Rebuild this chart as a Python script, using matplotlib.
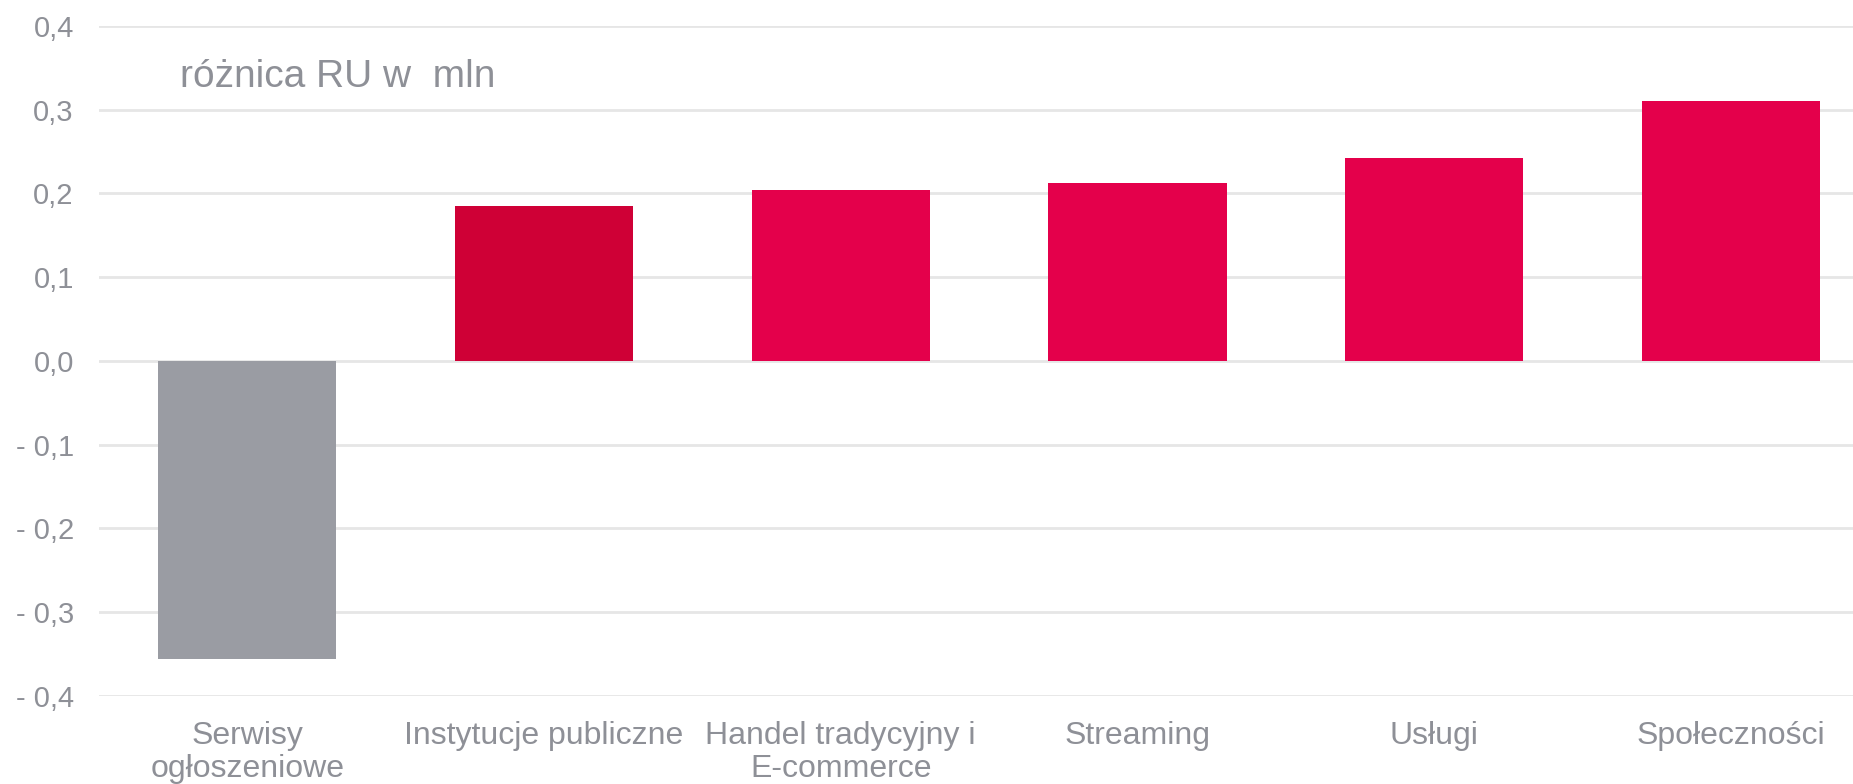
import matplotlib.pyplot as plt

plt.rcParams['font.family'] = ['Liberation Sans', 'DejaVu Sans']

# Differences in RU (millions) per category
categories = ["Serwisy\nogłoszeniowe", "Instytucje publiczne", "Handel tradycyjny i\nE-commerce",
              "Streaming", "Usługi", "Społeczności"]
values = [-0.356, 0.185, 0.204, 0.212, 0.242, 0.311]
colors = ["#9A9CA3", "#CF0036", "#E4004B", "#E4004B", "#E4004B", "#E4004B"]

yticks = [-0.4, -0.3, -0.2, -0.1, 0.0, 0.1, 0.2, 0.3, 0.4]
ytick_labels = ["- 0,4", "- 0,3", "- 0,2", "- 0,1", "0,0", "0,1", "0,2", "0,3", "0,4"]

TEXT_GRAY = "#8E9097"

fig = plt.figure(figsize=(18.53, 7.84), dpi=100)
ax = fig.add_axes([0.0533, 0.1126, 0.961, 0.8542])

x = list(range(len(categories)))
ax.bar(x, values, width=0.6, color=colors, linewidth=0, zorder=3)

ax.set_xlim(-0.5, len(categories) - 0.5)
ax.set_ylim(-0.4, 0.4)
ax.set_yticks(yticks)
ax.set_yticklabels(ytick_labels)
ax.set_xticks(x)
ax.set_xticklabels(categories, linespacing=1.15)

ax.grid(axis="y", color="#E6E6E6", linewidth=2, zorder=0)
ax.set_axisbelow(True)
for s in ax.spines.values():
    s.set_visible(False)
ax.tick_params(axis="y", length=0, labelsize=21, labelcolor=TEXT_GRAY, pad=18)
ax.tick_params(axis="x", length=0, labelsize=23, labelcolor=TEXT_GRAY, pad=18)

fig.text(180 / 1853, 1 - 87 / 784, "różnica RU w  mln", fontsize=28,
         color=TEXT_GRAY, ha="left", va="baseline")

fig.savefig("out.png", dpi=100)
